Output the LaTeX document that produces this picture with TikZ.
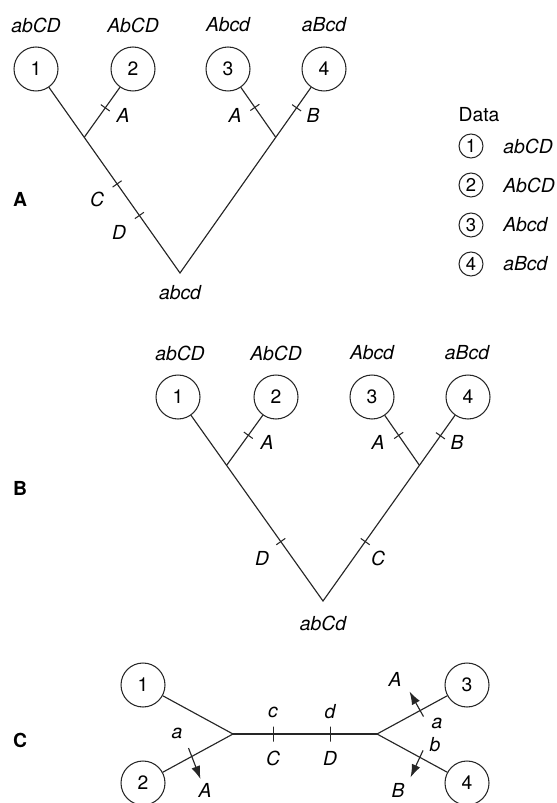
\documentclass[tikz,border=0pt]{standalone}
\usepackage{fontspec}
\setmainfont{TeX Gyre Heros}
\usetikzlibrary{arrows.meta,calc}
\tikzset{
  taxon/.style={circle,draw=black!85,line width=.6pt,minimum size=.88cm,inner sep=0pt,font=\fontsize{11}{13}\selectfont},
  keytaxon/.style={circle,draw=black!85,line width=.6pt,minimum size=.48cm,inner sep=0pt,font=\fontsize{10.5}{12}\selectfont},
  branch/.style={draw=black!85,line width=.65pt},
  mut/.style={sloped,draw=black!85,line width=.6pt,inner sep=0pt,minimum width=0pt,minimum height=.22cm},
  longmut/.style={mut,minimum height=.3cm},
  lbl/.style={font=\fontsize{11}{13}\selectfont\itshape,inner sep=0pt},
  panel/.style={font=\fontsize{11}{13}\selectfont\bfseries,inner sep=0pt},
  shiftarrow/.style={-{Latex[length=2.6mm,width=1.8mm]},draw=black!85,line width=.65pt},
}
\begin{document}
\begin{tikzpicture}[x=.02cm,y=-.02cm]
\useasboundingbox (0,0) rectangle (556,803);
% panel A
\node[panel] (pA) at (20,199) {A};
\node[taxon] (a1) at (36,69) {1};
\node[taxon] (a2) at (133,69) {2};
\node[taxon] (a3) at (228,69) {3};
\node[taxon] (a4) at (324,69) {4};
\node[lbl] (ga1) at (36,25) {abCD};
\node[lbl] (ga2) at (133,25) {AbCD};
\node[lbl] (ga3) at (228,25) {Abcd};
\node[lbl] (ga4) at (324,25) {aBcd};
\coordinate (ar) at (180,273);
\coordinate (aj1) at ($(ar)!.665!(a1)$);
\coordinate (aj2) at ($(ar)!.665!(a4)$);
\draw[branch] (a1) -- node[mut,pos=.52]{} node[mut,pos=.69]{} (ar) -- node[mut,pos=.89]{} (a4);
\draw[branch] (aj1) -- node[mut,pos=.59]{} (a2);
\draw[branch] (aj2) -- node[mut,pos=.6]{} (a3);
\node[lbl] (ma2) at (123,115) {A};
\node[lbl] (ma3) at (235,115) {A};
\node[lbl] (ma4) at (313,115) {B};
\node[lbl] (mac) at (97,199) {C};
\node[lbl] (mad) at (119,232) {D};
\node[lbl] (gar) at (180,293) {abcd};
% data key
\node[font=\fontsize{11}{13}\selectfont,inner sep=0pt] (key) at (479,115) {Data};
\node[keytaxon] (k1) at (471,146) {1};
\node[keytaxon] (k2) at (471,185) {2};
\node[keytaxon] (k3) at (471,225) {3};
\node[keytaxon] (k4) at (471,264) {4};
\node[lbl,anchor=west] (gk1) at (503,146) {abCD};
\node[lbl,anchor=west] (gk2) at (503,185) {AbCD};
\node[lbl,anchor=west] (gk3) at (503,225) {Abcd};
\node[lbl,anchor=west] (gk4) at (503,264) {aBcd};
% panel B
\node[panel] (pB) at (20,488) {B};
\node[taxon] (b1) at (178,397) {1};
\node[taxon] (b2) at (276,397) {2};
\node[taxon] (b3) at (372,397) {3};
\node[taxon] (b4) at (468,397) {4};
\node[lbl] (gb1) at (180,353) {abCD};
\node[lbl] (gb2) at (276,353) {AbCD};
\node[lbl] (gb3) at (372,353) {Abcd};
\node[lbl] (gb4) at (467,353) {aBcd};
\coordinate (br) at (323,601);
\coordinate (bj1) at ($(br)!.665!(b1)$);
\coordinate (bj2) at ($(br)!.665!(b4)$);
\draw[branch] (b1) -- node[mut,pos=.68]{} (br) -- node[mut,pos=.32]{} node[mut,pos=.89]{} (b4);
\draw[branch] (bj1) -- node[mut,pos=.6]{} (b2);
\draw[branch] (bj2) -- node[mut,pos=.6]{} (b3);
\node[lbl] (mb2) at (267,442) {A};
\node[lbl] (mb3) at (378,442) {A};
\node[lbl] (mb4) at (457,442) {B};
\node[lbl] (mbd) at (262,558) {D};
\node[lbl] (mbc) at (378,558) {C};
\node[lbl] (gbr) at (323,623) {abCd};
% panel C
\node[panel] (pC) at (20,740) {C};
\node[taxon] (c1) at (143,685) {1};
\node[taxon] (c2) at (143,783) {2};
\node[taxon] (c3) at (467,685) {3};
\node[taxon] (c4) at (467,783) {4};
\coordinate (cj1) at (233,734);
\coordinate (cj2) at (377,734);
\draw[branch] (c1) -- (cj1) -- (c2);
\draw[branch] (c3) -- (cj2) -- (c4);
\draw[branch] (cj1) -- node[longmut,pos=.278]{} node[longmut,pos=.674]{} (cj2);
\node[lbl] (mcc) at (273,712) {c};
\node[lbl] (mcC) at (273,758) {C};
\node[lbl] (mcd) at (330,712) {d};
\node[lbl] (mcD) at (330,758) {D};
\coordinate (s2) at ($(cj1)!.45!(c2)$);
\coordinate (s2a) at ($(s2)+(-4,-8)$);
\coordinate (s2b) at ($(s2)+(8,23)$);
\draw[shiftarrow] (s2a) -- (s2b);
\coordinate (s3) at ($(cj2)!.478!(c3)$);
\coordinate (s3a) at ($(s3)+(3.5,6)$);
\coordinate (s3b) at ($(s3)+(-10.5,-19)$);
\draw[shiftarrow] (s3a) -- (s3b);
\coordinate (s4) at ($(cj2)!.478!(c4)$);
\coordinate (s4a) at ($(s4)+(3,-7)$);
\coordinate (s4b) at ($(s4)+(-9.5,20)$);
\draw[shiftarrow] (s4a) -- (s4b);
\node[lbl] (mc2a) at (177,733) {a};
\node[lbl] (mc2A) at (205,790) {A};
\node[lbl] (mc3A) at (395,679) {A};
\node[lbl] (mc3a) at (437,723) {a};
\node[lbl] (mc4b) at (435,745) {b};
\node[lbl] (mc4B) at (398,790) {B};
\end{tikzpicture}
\end{document}
